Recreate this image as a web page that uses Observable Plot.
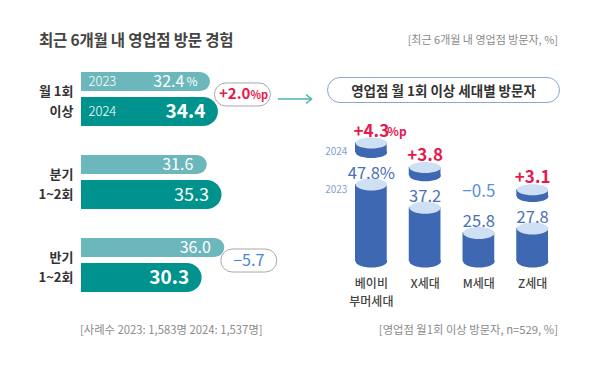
<!DOCTYPE html>
<html><head><meta charset="utf-8">
<script src="https://cdn.jsdelivr.net/npm/d3@7"></script>
<script src="https://cdn.jsdelivr.net/npm/@observablehq/plot@0.6"></script>
<style>
html,body{margin:0;padding:0;background:#fff;}
#wrap{position:relative;width:600px;height:367px;overflow:hidden;font-family:"Noto Sans CJK KR","Noto Sans",sans-serif;}
#wrap > svg.chart{position:absolute;top:0;}
.abs{position:absolute;white-space:nowrap;}
#title{left:39px;top:28px;font-size:15.5px;font-weight:700;color:#444;line-height:22px;letter-spacing:-0.2px;}
#sub{right:42px;top:31px;font-size:11px;color:#8a8a8a;line-height:16px;}
#head{left:327px;top:77px;width:231px;height:24px;border:1.5px solid #8aa6d6;border-radius:14px;font-size:13.5px;font-weight:700;color:#333;line-height:24px;text-align:center;}
#arrow{left:278px;top:86px;width:36px;height:12px;}
#foot1{left:80px;top:321px;font-size:11.3px;color:#8a8a8a;line-height:16px;}
#foot2{right:42px;top:321px;font-size:11.3px;color:#8a8a8a;line-height:16px;}
</style></head>
<body>
<div id="wrap">
  <div class="abs" id="title">최근 6개월 내 영업점 방문 경험</div>
  <div class="abs" id="sub">[최근 6개월 내 영업점 방문자, %]</div>
  <div class="abs" id="head">영업점 월 1회 이상 세대별 방문자</div>
  <div class="abs" id="arrow"><svg width="36" height="12"><line x1="0" y1="6" x2="33" y2="6" stroke="#4bb3b3" stroke-width="1.5"/><polyline points="28,1.5 33.5,6 28,10.5" fill="none" stroke="#4bb3b3" stroke-width="1.5"/></svg></div>
  <div class="abs" id="foot1">[사례수 2023: 1,583명 2024: 1,537명]</div>
  <div class="abs" id="foot2">[영업점 월1회 이상 방문자, n=529, %]</div>
</div>
<script>
// ---- data ----
const years = ["2023", "2024"];
const rows = ["월 1회\n이상", "분기\n1~2회", "반기\n1~2회"];
const rowV2023 = [32.4, 31.6, 36.0];
const rowV2024 = [34.4, 35.3, 30.3];
const rowDiffLabel = ["+2.0", "", "−5.7"];
const rowDiffUnit = ["%p", "", ""];
const rowValueUnit = ["%", "", ""];

const gens = ["베이비\n부머세대", "X세대", "M세대", "Z세대"];
const genV2023 = [47.8, 37.2, 25.8, 27.8];
const genDiff = [4.3, 3.8, -0.5, 3.1];
const genValueUnit = ["%", "", "", ""];
const genDiffUnit = ["%p", "", "", ""];

// ---- styles ----
const FONT = "'Noto Sans CJK KR','Noto Sans',sans-serif";
const C23 = "#6bb7bb", C24 = "#00938d";
const PINK = "#e6194d", BLUEDIFF = "#4a86d6";
const CYL = "#3f68b3", CYLTOP = "#cfe0f5", VALBLUE = "#4a70b8";

function ellipse(rx, ry) {
  const k = 0.5523;
  return {draw(ctx) {
    ctx.moveTo(rx, 0);
    ctx.bezierCurveTo(rx, ry * k, rx * k, ry, 0, ry);
    ctx.bezierCurveTo(-rx * k, ry, -rx, ry * k, -rx, 0);
    ctx.bezierCurveTo(-rx, -ry * k, -rx * k, -ry, 0, -ry);
    ctx.bezierCurveTo(rx * k, -ry, rx, -ry * k, rx, 0);
    ctx.closePath();
  }};
}
function pill(w, h) {
  const r = h / 2;
  return {draw(ctx) {
    ctx.moveTo(-w / 2 + r, -h / 2);
    ctx.lineTo(w / 2 - r, -h / 2);
    ctx.arc(w / 2 - r, 0, r, -Math.PI / 2, Math.PI / 2);
    ctx.lineTo(-w / 2 + r, h / 2);
    ctx.arc(-w / 2 + r, 0, r, Math.PI / 2, Math.PI * 1.5);
    ctx.closePath();
  }};
}

// ---- left chart ----
const L = rows.map((row, i) => ({
  row, v23: rowV2023[i], v24: rowV2024[i],
  dl: rowDiffLabel[i], du: rowDiffUnit[i], vu: rowValueUnit[i],
  first: i === 0
}));
const dy23 = -17.5, dy24 = 12.5;
const shown = L.filter(d => d.dl);
const left = Plot.plot({
  width: 300, height: 367,
  marginLeft: 81, marginRight: 20, marginTop: 72, marginBottom: 75,
  style: {fontFamily: FONT, background: "transparent", overflow: "visible"},
  x: {domain: [0, 50], axis: null},
  y: {domain: rows, paddingInner: 0.35, paddingOuter: 0, round: false, axis: null},
  marks: [
    Plot.barX(L, {y: "row", x1: 0, x2: "v23", insetBottom: 35, fill: C23, rx: 10}),
    Plot.barX(L, {y: "row", x1: 0, x2: d => d.v23 / 2, insetBottom: 35, fill: C23}),
    Plot.barX(L, {y: "row", x1: 0, x2: "v24", insetTop: 25, fill: C24, rx: 15}),
    Plot.barX(L, {y: "row", x1: 0, x2: d => d.v24 / 2, insetTop: 25, fill: C24}),
    // year labels (first row only)
    Plot.text(L.filter(d => d.first), {y: "row", x: 0, text: () => years[0], dx: 7, dy: dy23, textAnchor: "start", fill: "white", fontSize: 13, fontWeight: 300}),
    Plot.text(L.filter(d => d.first), {y: "row", x: 0, text: () => years[1], dx: 7, dy: dy24, textAnchor: "start", fill: "white", fontSize: 13, fontWeight: 300}),
    // 2023 values (with unit suffix where given)
    Plot.text(L.filter(d => !d.vu), {y: "row", x: "v23", text: d => d.v23.toFixed(1), dx: -14, dy: dy23, textAnchor: "end", fill: "white", fontSize: 16, fontWeight: 400}),
    Plot.text(L.filter(d => d.vu), {y: "row", x: "v23", text: d => d.v23.toFixed(1), dx: -26, dy: dy23, textAnchor: "end", fill: "white", fontSize: 16, fontWeight: 400}),
    Plot.text(L.filter(d => d.vu), {y: "row", x: "v23", text: "vu", dx: -13, dy: dy23 + 0.5, textAnchor: "end", fill: "white", fontSize: 12, fontWeight: 400}),
    // 2024 values
    Plot.text(L.filter(d => d.dl), {y: "row", x: "v24", text: d => d.v24.toFixed(1), dx: -13, dy: dy24, textAnchor: "end", fill: "white", fontSize: 19, fontWeight: 700}),
    Plot.text(L.filter(d => !d.dl), {y: "row", x: "v24", text: d => d.v24.toFixed(1), dx: -13, dy: dy24, textAnchor: "end", fill: "white", fontSize: 18, fontWeight: 400}),
    // row labels
    Plot.text(L, {y: "row", x: 0, text: "row", dx: -8, textAnchor: "end", fill: "#333", fontSize: 13, fontWeight: 700, lineHeight: 1.55}),
    // diff pills
    Plot.dot(shown, {y: "row", x: d => Math.max(d.v23, d.v24), dx: 24, dy: -5, symbol: pill(56, 23), fill: "white", stroke: "#a9a9a9", strokeWidth: 1}),
    Plot.text(shown.filter(d => d.v24 > d.v23 && d.du), {y: "row", x: d => Math.max(d.v23, d.v24), text: "dl", dx: 32, dy: -5, textAnchor: "end", fill: PINK, fontSize: 15, fontWeight: 700}),
    Plot.text(shown.filter(d => d.v24 > d.v23 && d.du), {y: "row", x: d => Math.max(d.v23, d.v24), text: "du", dx: 32, dy: -4, textAnchor: "start", fill: PINK, fontSize: 11, fontWeight: 700}),
    Plot.text(shown.filter(d => d.v24 < d.v23), {y: "row", x: d => Math.max(d.v23, d.v24), text: "dl", dx: 24, dy: -5, textAnchor: "middle", fill: BLUEDIFF, fontSize: 16, fontWeight: 400})
  ]
});

// ---- right chart ----
const BASE = 12.8, GAP = 14.5;
const G = gens.map((gen, i) => ({
  gen, v23: genV2023[i], diff: genDiff[i], v24: +(genV2023[i] + genDiff[i]).toFixed(1),
  vu: genValueUnit[i], du: genDiffUnit[i], first: i === 0
}));
const up = G.filter(d => d.diff > 0);
const down = G.filter(d => d.diff < 0);
const fmtDiff = d => (d.diff > 0 ? "+" : "−") + Math.abs(d.diff).toFixed(1);
const right = Plot.plot({
  width: 300, height: 367,
  marginLeft: 55, marginRight: 52, marginTop: 110, marginBottom: 106,
  style: {fontFamily: FONT, background: "transparent", overflow: "visible"},
  x: {domain: gens, paddingInner: 0.41, paddingOuter: 0, round: false, axis: null},
  y: {domain: [BASE, 81.4], axis: null},
  marks: [
    // base cylinders
    Plot.barY(G, {x: "gen", y1: () => BASE, y2: "v23", fill: CYL}),
    Plot.dot(G, {x: "gen", y: () => BASE, symbol: ellipse(15.75, 6), fill: CYL, stroke: "none"}),
    Plot.dot(G, {x: "gen", y: "v23", symbol: ellipse(15.75, 6), fill: CYLTOP, stroke: "none"}),
    // caps (increase)
    Plot.barY(up, {x: "gen", y1: d => d.v23 + GAP, y2: d => d.v24 + GAP, fill: CYL}),
    Plot.dot(up, {x: "gen", y: d => d.v23 + GAP, symbol: ellipse(15.75, 5.5), fill: CYL, stroke: "none"}),
    Plot.dot(up, {x: "gen", y: d => d.v24 + GAP, symbol: ellipse(15.75, 5.5), fill: CYLTOP, stroke: "none"}),
    // values
    Plot.text(G, {x: "gen", y: "v23", text: d => d.v23.toFixed(1) + d.vu, dy: -11, fill: VALBLUE, fontSize: 16.5, fontWeight: 400}),
    // diffs
    Plot.text(up, {x: "gen", y: d => d.v24 + GAP, text: fmtDiff, dy: -12, fill: PINK, fontSize: 17, fontWeight: 700}),
    Plot.text(up.filter(d => d.du), {x: "gen", y: d => d.v24 + GAP, text: "du", dx: 16, dy: -11, textAnchor: "start", fill: PINK, fontSize: 12, fontWeight: 700}),
    Plot.text(down, {x: "gen", y: d => d.v24 + GAP, text: fmtDiff, dy: -11, fill: "#5b8fd8", fontSize: 17, fontWeight: 400}),
    // year labels
    Plot.text(G.filter(d => d.first), {x: "gen", y: d => (d.v23 + d.v24) / 2 + GAP, text: () => years[1], dx: -24, dy: 3.5, textAnchor: "end", fill: "#7f9fd2", fontSize: 10}),
    Plot.text(G.filter(d => d.first), {x: "gen", y: "v23", text: () => years[0], dx: -24, dy: 5, textAnchor: "end", fill: "#7f9fd2", fontSize: 10}),
    // category labels
    Plot.text(G, {x: "gen", y: () => BASE, text: "gen", dy: 14, lineAnchor: "top", lineHeight: 1.5, fill: "#444", fontSize: 12, fontWeight: 500})
  ]
});
left.classList.add("chart");
right.classList.add("chart");
left.style.left = "0px";
right.style.left = "300px";
document.getElementById("wrap").append(left, right);
</script>
</body></html>
